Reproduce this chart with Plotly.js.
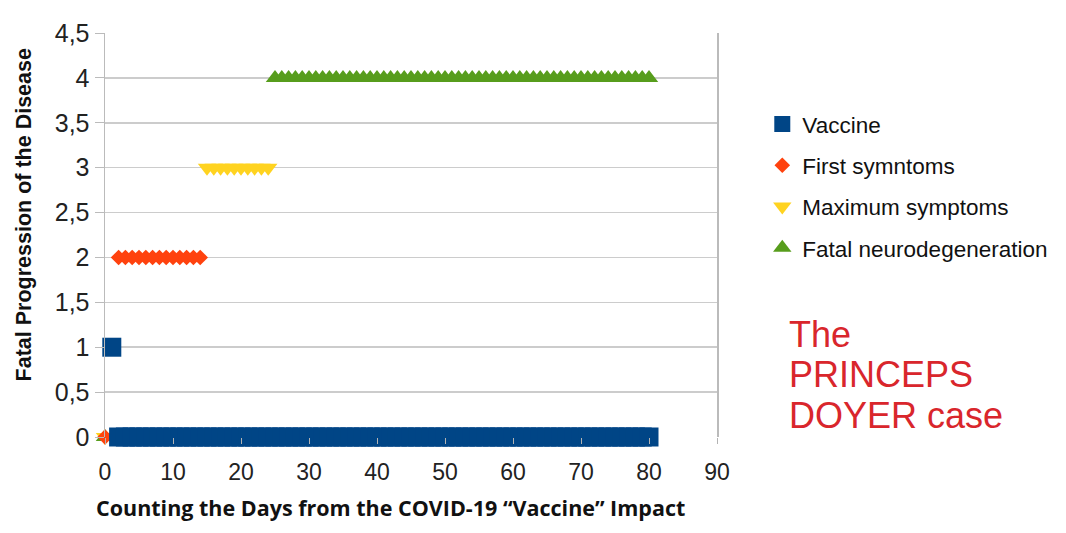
<!DOCTYPE html>
<html>
<head>
<meta charset="utf-8">
<script src="https://cdn.plot.ly/plotly-3.0.1.min.js"></script>
<style>
  body { margin: 0; background: #fff; }
  #chart { width: 1066px; height: 533px; }
</style>
</head>
<body>
<div id="chart"></div>
<script>
// days (x) and progression level (y) for each series
var vaccineX = [1, 2, 3, 4, 5, 6, 7, 8, 9, 10, 11, 12, 13, 14, 15, 16, 17, 18, 19, 20,
  21, 22, 23, 24, 25, 26, 27, 28, 29, 30, 31, 32, 33, 34, 35, 36, 37, 38, 39, 40,
  41, 42, 43, 44, 45, 46, 47, 48, 49, 50, 51, 52, 53, 54, 55, 56, 57, 58, 59, 60,
  61, 62, 63, 64, 65, 66, 67, 68, 69, 70, 71, 72, 73, 74, 75, 76, 77, 78, 79, 80];
var vaccineY = [1, 0, 0, 0, 0, 0, 0, 0, 0, 0, 0, 0, 0, 0, 0, 0, 0, 0, 0, 0,
  0, 0, 0, 0, 0, 0, 0, 0, 0, 0, 0, 0, 0, 0, 0, 0, 0, 0, 0, 0,
  0, 0, 0, 0, 0, 0, 0, 0, 0, 0, 0, 0, 0, 0, 0, 0, 0, 0, 0, 0,
  0, 0, 0, 0, 0, 0, 0, 0, 0, 0, 0, 0, 0, 0, 0, 0, 0, 0, 0, 0];

var firstX = [0, 2, 3, 4, 5, 6, 7, 8, 9, 10, 11, 12, 13, 14];
var firstY = [0, 2, 2, 2, 2, 2, 2, 2, 2, 2, 2, 2, 2, 2];

var maxX = [0, 15, 16, 17, 18, 19, 20, 21, 22, 23, 24];
var maxY = [0, 3, 3, 3, 3, 3, 3, 3, 3, 3, 3];

var fatalX = [0, 25, 26, 27, 28, 29, 30, 31, 32, 33, 34, 35, 36, 37, 38, 39, 40,
  41, 42, 43, 44, 45, 46, 47, 48, 49, 50, 51, 52, 53, 54, 55, 56, 57, 58, 59, 60,
  61, 62, 63, 64, 65, 66, 67, 68, 69, 70, 71, 72, 73, 74, 75, 76, 77, 78, 79, 80];
var fatalY = [0, 4, 4, 4, 4, 4, 4, 4, 4, 4, 4, 4, 4, 4, 4, 4, 4,
  4, 4, 4, 4, 4, 4, 4, 4, 4, 4, 4, 4, 4, 4, 4, 4, 4, 4, 4, 4,
  4, 4, 4, 4, 4, 4, 4, 4, 4, 4, 4, 4, 4, 4, 4, 4, 4, 4, 4, 4];

var seriesNames = ["Vaccine", "First symntoms", "Maximum symptoms", "Fatal neurodegeneration"];

var xTitle = "Counting the Days from the COVID-19 \u201cVaccine\u201d Impact";
var yTitle = "Fatal Progression of the Disease";

// red side note, one entry per line
var noteLines = ["The", "PRINCEPS", "DOYER case"];

var traceFatal = {
    x: fatalX, y: fatalY, name: seriesNames[3],
    type: "scatter", mode: "markers", cliponaxis: false,
    legendgroup: "g4", legendrank: 4,
    marker: {symbol: "triangle-up", size: 16, color: "#579d1c"}
};
var traceMax = {
    x: maxX, y: maxY, name: seriesNames[2],
    type: "scatter", mode: "markers", cliponaxis: false,
    legendgroup: "g3", legendrank: 3,
    marker: {symbol: "triangle-down", size: 16, color: "#ffd320"}
};
var traceFirst = {
    x: firstX, y: firstY, name: seriesNames[1],
    type: "scatter", mode: "markers", cliponaxis: false,
    legendgroup: "g2", legendrank: 2,
    marker: {symbol: "diamond", size: 12, color: "#ff420e"}
};
var traceVaccine = {
    x: vaccineX, y: vaccineY, name: seriesNames[0],
    type: "scatter", mode: "markers", cliponaxis: false,
    legendgroup: "g1", legendrank: 1,
    marker: {symbol: "square", size: 19, color: "#004586"}
};

var data = [traceFatal, traceMax, traceFirst, traceVaccine];

var notes = noteLines.map(function (line, i) {
    return {
        text: line,
        xref: "paper", yref: "paper",
        x: 1.1145, y: 0.31 - i * 0.1,
        xanchor: "left", yanchor: "top",
        showarrow: false,
        font: {family: "Liberation Sans, Arial, sans-serif", size: 36, color: "#d9262c"}
    };
});

// axis titles placed as annotations so they sit where the original has them
notes.push({
    text: xTitle,
    xref: "paper", yref: "paper",
    x: 0.467, y: -0.174, xanchor: "center", yanchor: "middle",
    showarrow: false,
    font: {family: "Open Sans, sans-serif", size: 21.5, color: "#111", weight: "bold"}
});
notes.push({
    text: yTitle,
    xref: "paper", yref: "paper",
    x: -0.133, y: 0.55, xanchor: "center", yanchor: "middle",
    textangle: -90,
    showarrow: false,
    font: {family: "Liberation Sans, Arial, sans-serif", size: 21.5, color: "#111", weight: "bold"}
});

var layout = {
    width: 1066,
    height: 533,
    margin: {l: 105, r: 349, t: 33, b: 96},
    paper_bgcolor: "#ffffff",
    plot_bgcolor: "#ffffff",
    separators: ",.",
    font: {family: "Liberation Sans, Arial, sans-serif", color: "#222"},
    showlegend: true,
    legend: {
        x: 1.074, y: 0.827, xanchor: "left", yanchor: "top",
        font: {size: 22.5, color: "#111"},
        tracegroupgap: 9,
        traceorder: "grouped"
    },
    xaxis: {
        range: [0, 90],
        dtick: 10,
        showgrid: false,
        zeroline: false,
        showline: false,
        ticks: "outside",
        ticklen: 6,
        tickcolor: "#b3b3b3",
        ticklabelstandoff: 8,
        tickfont: {size: 23, color: "#222"}
    },
    yaxis: {
        range: [0, 4.5],
        dtick: 0.5,
        showgrid: true,
        gridcolor: "#cccccc",
        gridwidth: 1.5,
        zeroline: false,
        showline: true,
        mirror: true,
        linecolor: "#bbbbbb",
        linewidth: 1.5,
        ticks: "outside",
        ticklen: 9,
        tickcolor: "#bbbbbb",
        tickfont: {size: 25, color: "#222"}
    },
    annotations: notes
};

Plotly.newPlot("chart", data, layout, {displayModeBar: false, staticPlot: true});
</script>
</body>
</html>
